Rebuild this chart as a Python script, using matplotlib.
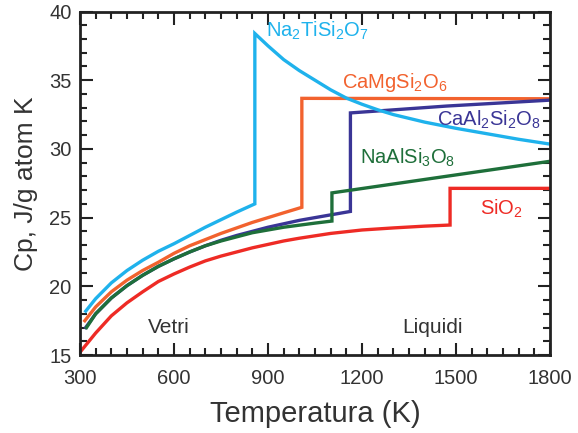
import matplotlib
matplotlib.use("Agg")
import matplotlib.pyplot as plt
from matplotlib.ticker import MultipleLocator

plt.rcParams["font.family"] = ["Liberation Sans", "DejaVu Sans"]
plt.rcParams["mathtext.fontset"] = "custom"
plt.rcParams["mathtext.rm"] = "Liberation Sans"
plt.rcParams["mathtext.it"] = "Liberation Sans:italic"

# Heat capacity (J/g atom K) vs temperature (K): glass branch, jump at Tg, liquid branch
T_na2tisi = [315, 350, 400, 450, 500, 550, 600, 650, 700, 750, 800, 858,
             858, 900, 950, 1000, 1050, 1100, 1150, 1200, 1250, 1300, 1400,
             1500, 1600, 1700, 1800]
cp_na2tisi = [18.1, 19.1, 20.25, 21.15, 21.9, 22.55, 23.1, 23.7, 24.3, 24.85, 25.4, 26.0,
              38.4, 37.5, 36.5, 35.7, 35.0, 34.3, 33.7, 33.25, 32.85, 32.5, 31.95,
              31.5, 31.1, 30.7, 30.35]

T_camgsi = [312, 350, 400, 450, 500, 550, 600, 650, 700, 750, 800, 850, 900, 950, 1008,
            1008, 1800]
cp_camgsi = [17.4, 18.5, 19.6, 20.45, 21.15, 21.75, 22.4, 22.95, 23.4, 23.85, 24.25,
             24.65, 25.0, 25.35, 25.75,
             33.68, 33.65]

T_caalsi = [315, 350, 400, 450, 500, 550, 600, 650, 700, 750, 800, 850, 900, 950, 1000,
            1050, 1100, 1163,
            1163, 1470, 1800]
cp_caalsi = [16.9, 18.0, 19.15, 20.05, 20.8, 21.45, 22.0, 22.5, 22.95, 23.35, 23.7, 24.0,
             24.3, 24.55, 24.8, 25.0, 25.2, 25.45,
             32.62, 33.12, 33.55]

T_naalsi = [318, 350, 400, 450, 500, 550, 600, 650, 700, 750, 800, 850, 900, 950, 1000,
            1050, 1104,
            1104, 1800]
cp_naalsi = [16.9, 18.0, 19.15, 20.05, 20.8, 21.45, 22.0, 22.5, 22.95, 23.3, 23.6, 23.9,
             24.1, 24.3, 24.45, 24.6, 24.75,
             26.8, 29.1]

T_sio2 = [300, 350, 400, 450, 500, 550, 600, 650, 700, 750, 800, 850, 900, 950, 1000,
          1100, 1200, 1300, 1400, 1481,
          1481, 1800]
cp_sio2 = [15.2, 16.6, 17.85, 18.8, 19.6, 20.35, 20.9, 21.4, 21.85, 22.2, 22.5, 22.8,
           23.05, 23.3, 23.5, 23.85, 24.1, 24.25, 24.38, 24.46,
           27.13, 27.13]

C_CYAN = "#1FB2EC"
C_ORANGE = "#F2622E"
C_BLUE = "#3A3596"
C_GREEN = "#1E6F3A"
C_RED = "#EE2B25"

fig = plt.figure(figsize=(5.78, 4.33), dpi=100)
ax = fig.add_axes([0.1384, 0.1801, 0.9516 - 0.1384, 0.9734 - 0.1801])

lw = 2.4
kw = dict(lw=lw, solid_joinstyle="miter", solid_capstyle="butt")
ax.plot(T_camgsi, cp_camgsi, color=C_ORANGE, **kw)
ax.plot(T_caalsi, cp_caalsi, color=C_BLUE, **kw)
ax.plot(T_naalsi, cp_naalsi, color=C_GREEN, **kw)
ax.plot(T_sio2, cp_sio2, color=C_RED, **kw)
ax.plot(T_na2tisi, cp_na2tisi, color=C_CYAN, **kw)

lab_fs = 14.5
ax.text(894, 38.16, r"Na$_\mathregular{2}$TiSi$_\mathregular{2}$O$_\mathregular{7}$",
        color=C_CYAN, fontsize=lab_fs, va="baseline", ha="left")
ax.text(1135, 34.41, r"CaMgSi$_\mathregular{2}$O$_\mathregular{6}$",
        color=C_ORANGE, fontsize=lab_fs, va="baseline", ha="left")
ax.text(1438, 31.7, r"CaAl$_\mathregular{2}$Si$_\mathregular{2}$O$_\mathregular{8}$",
        color=C_BLUE, fontsize=lab_fs, va="baseline", ha="left")
ax.text(1194, 28.95, r"NaAlSi$_\mathregular{3}$O$_\mathregular{8}$",
        color=C_GREEN, fontsize=lab_fs, va="baseline", ha="left")
ax.text(1577, 25.19, r"SiO$_\mathregular{2}$",
        color=C_RED, fontsize=lab_fs, va="baseline", ha="left")
ax.text(517, 16.6, "Vetri", color="#333333", fontsize=15, va="baseline", ha="left")
ax.text(1327, 16.58, "Liquidi", color="#333333", fontsize=15, va="baseline", ha="left")

ax.set_xlim(300, 1800)
ax.set_ylim(15, 40)
ax.xaxis.set_major_locator(MultipleLocator(300))
ax.xaxis.set_minor_locator(MultipleLocator(50))
ax.yaxis.set_major_locator(MultipleLocator(5))
ax.yaxis.set_minor_locator(MultipleLocator(1))
ax.tick_params(which="both", direction="in", top=True, right=True, width=1.5,
               colors="#222222", labelsize=14.5, labelcolor="#333333")
ax.tick_params(which="major", length=9)
ax.tick_params(which="minor", length=5)
ax.tick_params(axis="x", which="major", pad=10)
ax.tick_params(axis="y", which="major", pad=6)
for s in ax.spines.values():
    s.set_linewidth(2.0)
    s.set_color("#222222")

ax.set_xlabel("Temperatura (K)", fontsize=21, color="#333333", labelpad=9)
ax.set_ylabel("Cp, J/g atom K", fontsize=19, color="#333333", labelpad=8)

fig.savefig("out.png", dpi=100)
